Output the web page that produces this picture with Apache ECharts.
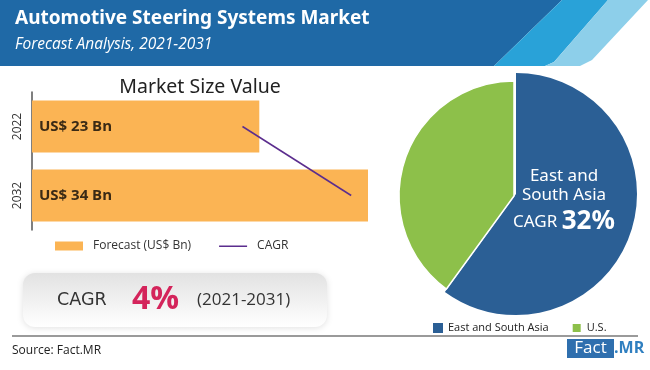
<!DOCTYPE html>
<html><head><meta charset="utf-8">
<script src="https://cdn.jsdelivr.net/npm/echarts@6/dist/echarts.min.js"></script>
<style>html,body{margin:0;padding:0;background:#fff}#c{width:650px;height:370px}</style>
</head><body><div id="c"></div>
<script>
const years = ['2022', '2032'];
const forecast = [23, 34];
const barLabels = ['US$ 23 Bn', 'US$ 34 Bn'];
const cagrLine = [21.3, 32.3];
const regions = ['East and South Asia', 'U.S.'];
const regionShare = [60, 40];
const cagrText = '4%';
const regionCagr = '32%';

const chart = echarts.init(document.getElementById('c'), null, {renderer: 'canvas'});
const blue = '#2b5f95', green = '#8dc04a', orange = '#fbb454', purple = '#5b2d8e';

chart.setOption({
  animation: false,
  backgroundColor: '#ffffff',
  title: [{
    text: 'Market Size Value', left: 195, top: 72, textAlign: 'center',
    textStyle: {fontFamily: 'Noto Sans', fontWeight: 'normal', fontSize: 19.5, color: '#222'}
  }],
  legend: [{
    data: [{name: 'Forecast (US$ Bn)', icon: 'rect'},
           {name: 'CAGR', icon: 'path://M0,0 L0.01,0 L0.01,0.01 Z M0,4 L30,4 L30,5.6 L0,5.6 Z M29.99,9 L30,9 L30,8.99 Z'}],
    left: 50, top: 235, itemWidth: 28, itemHeight: 9, itemGap: 28,
    textStyle: {fontFamily: 'Open Sans', fontSize: 12, color: '#333', padding: [0, 0, 0, 5]}
  }, {
    data: regions, left: 428, top: 317, itemWidth: 10, itemHeight: 10, itemGap: 22, icon: 'rect',
    textStyle: {fontFamily: 'Open Sans', fontSize: 11, color: '#222'}
  }],
  grid: {left: 32, top: 92, width: 336, height: 138},
  xAxis: {type: 'value', min: 0, max: 34, show: false},
  yAxis: {
    type: 'category', data: years, inverse: true,
    axisLine: {show: true, lineStyle: {color: '#555', width: 1.5}},
    axisTick: {show: false},
    axisLabel: {rotate: 90, margin: 8, fontFamily: 'Open Sans', fontSize: 12, color: '#333'}
  },
  series: [{
    name: 'Forecast (US$ Bn)', type: 'bar', data: forecast, barWidth: 52,
    itemStyle: {color: orange},
    label: {show: true, position: 'insideLeft', offset: [2, 0],
      formatter: p => barLabels[p.dataIndex],
      fontFamily: 'Open Sans', fontWeight: 'bold', fontSize: 15, color: '#3a2a15'}
  }, {
    name: 'CAGR', type: 'line', data: cagrLine, symbol: 'none',
    lineStyle: {color: purple, width: 1.5}, itemStyle: {color: purple}
  }, {
    name: 'pieBlue', type: 'pie', center: [516, 194], radius: 121, startAngle: 90, clockwise: true,
    label: {show: false}, labelLine: {show: false}, silent: true,
    data: [{name: regions[0], value: regionShare[0], itemStyle: {color: blue}},
           {name: '_gap', value: regionShare[1], itemStyle: {color: 'rgba(0,0,0,0)'}}]
  }, {
    name: 'pieGreen', type: 'pie', center: [514, 196], radius: 115, startAngle: 90, clockwise: true,
    label: {show: false}, labelLine: {show: false}, silent: true,
    itemStyle: {borderColor: '#fff', borderWidth: 1.5},
    data: [{name: '_gap2', value: regionShare[0], itemStyle: {color: 'rgba(0,0,0,0)', borderWidth: 0}},
           {name: regions[1], value: regionShare[1], itemStyle: {color: green}}]
  }],
  graphic: [
    {type: 'polygon', shape: {points: [[0,0],[562,0],[494,66],[0,66]]}, style: {fill: '#1f69a6'}, z: 0},
    {type: 'polygon', shape: {points: [[562,0],[608,0],[554,62],[545,66],[494,66]]}, style: {fill: '#29a2d8'}, z: 0},
    {type: 'polygon', shape: {points: [[608,0],[648,0],[592,60],[580,66],[545,66],[554,62]]}, style: {fill: '#8dcfea'}, z: 0},
    {type: 'text', x: 15, y: 9, style: {text: 'Automotive Steering Systems Market', fill: '#fff',
      font: 'bold 19px "Noto Sans"'}},
    {type: 'text', x: 15, y: 37, style: {text: 'Forecast Analysis, 2021-2031', fill: '#fff',
      font: 'italic 15.5px "Open Sans"'}},
    {type: 'rect', shape: {x: 23, y: 273, width: 304, height: 54, r: 12},
      style: {fill: new echarts.graphic.LinearGradient(0, 0, 0, 1, [{offset: 0, color: '#e2e2e2'}, {offset: 1, color: '#ffffff'}]),
        shadowBlur: 6, shadowColor: 'rgba(0,0,0,0.12)', shadowOffsetY: 1}},
    {type: 'text', x: 57, y: 300, style: {
      text: '{a|CAGR}{b|' + cagrText + '}{c|(2021-2031)}', verticalAlign: 'middle',
      rich: {a: {font: '17.5px "DejaVu Sans"', fill: '#333', width: 75, verticalAlign: 'middle'},
             b: {font: 'bold 32px "Open Sans"', fill: '#d4245b', width: 65, verticalAlign: 'middle'},
             c: {font: '17px "Open Sans"', fill: '#333', verticalAlign: 'middle'}}}},
    {type: 'line', shape: {x1: 12, y1: 336, x2: 638, y2: 336}, style: {stroke: '#9a9a9a', lineWidth: 2}},
    {type: 'text', x: 12, y: 345, style: {text: 'Source: Fact.MR', fill: '#222', font: '12px "Open Sans"'}},
    {type: 'rect', shape: {x: 567, y: 339, width: 47, height: 19}, style: {fill: '#2f6fae'}},
    {type: 'text', x: 590.5, y: 348.5, style: {text: 'Fact', fill: '#fff', font: '17px "Open Sans"',
      align: 'center', verticalAlign: 'middle'}},
    {type: 'text', x: 614, y: 348.5, style: {text: '.MR', fill: '#2f7fc0', font: 'bold 16px "Open Sans"',
      verticalAlign: 'middle'}},
    {type: 'text', x: 564, y: 186, z: 100, style: {text: 'East and\nSouth Asia', fill: '#fff', align: 'center',
      verticalAlign: 'middle', font: '17px "Noto Sans"', lineHeight: 19}},
    {type: 'text', x: 564, y: 222, z: 100, style: {text: '{a|CAGR }{b|' + regionCagr + '}', align: 'center',
      verticalAlign: 'middle',
      rich: {a: {font: '17px "Noto Sans"', fill: '#fff', verticalAlign: 'middle'},
             b: {font: 'bold 26px "Noto Sans"', fill: '#fff', verticalAlign: 'middle'}}}}
  ]
});
</script></body></html>
